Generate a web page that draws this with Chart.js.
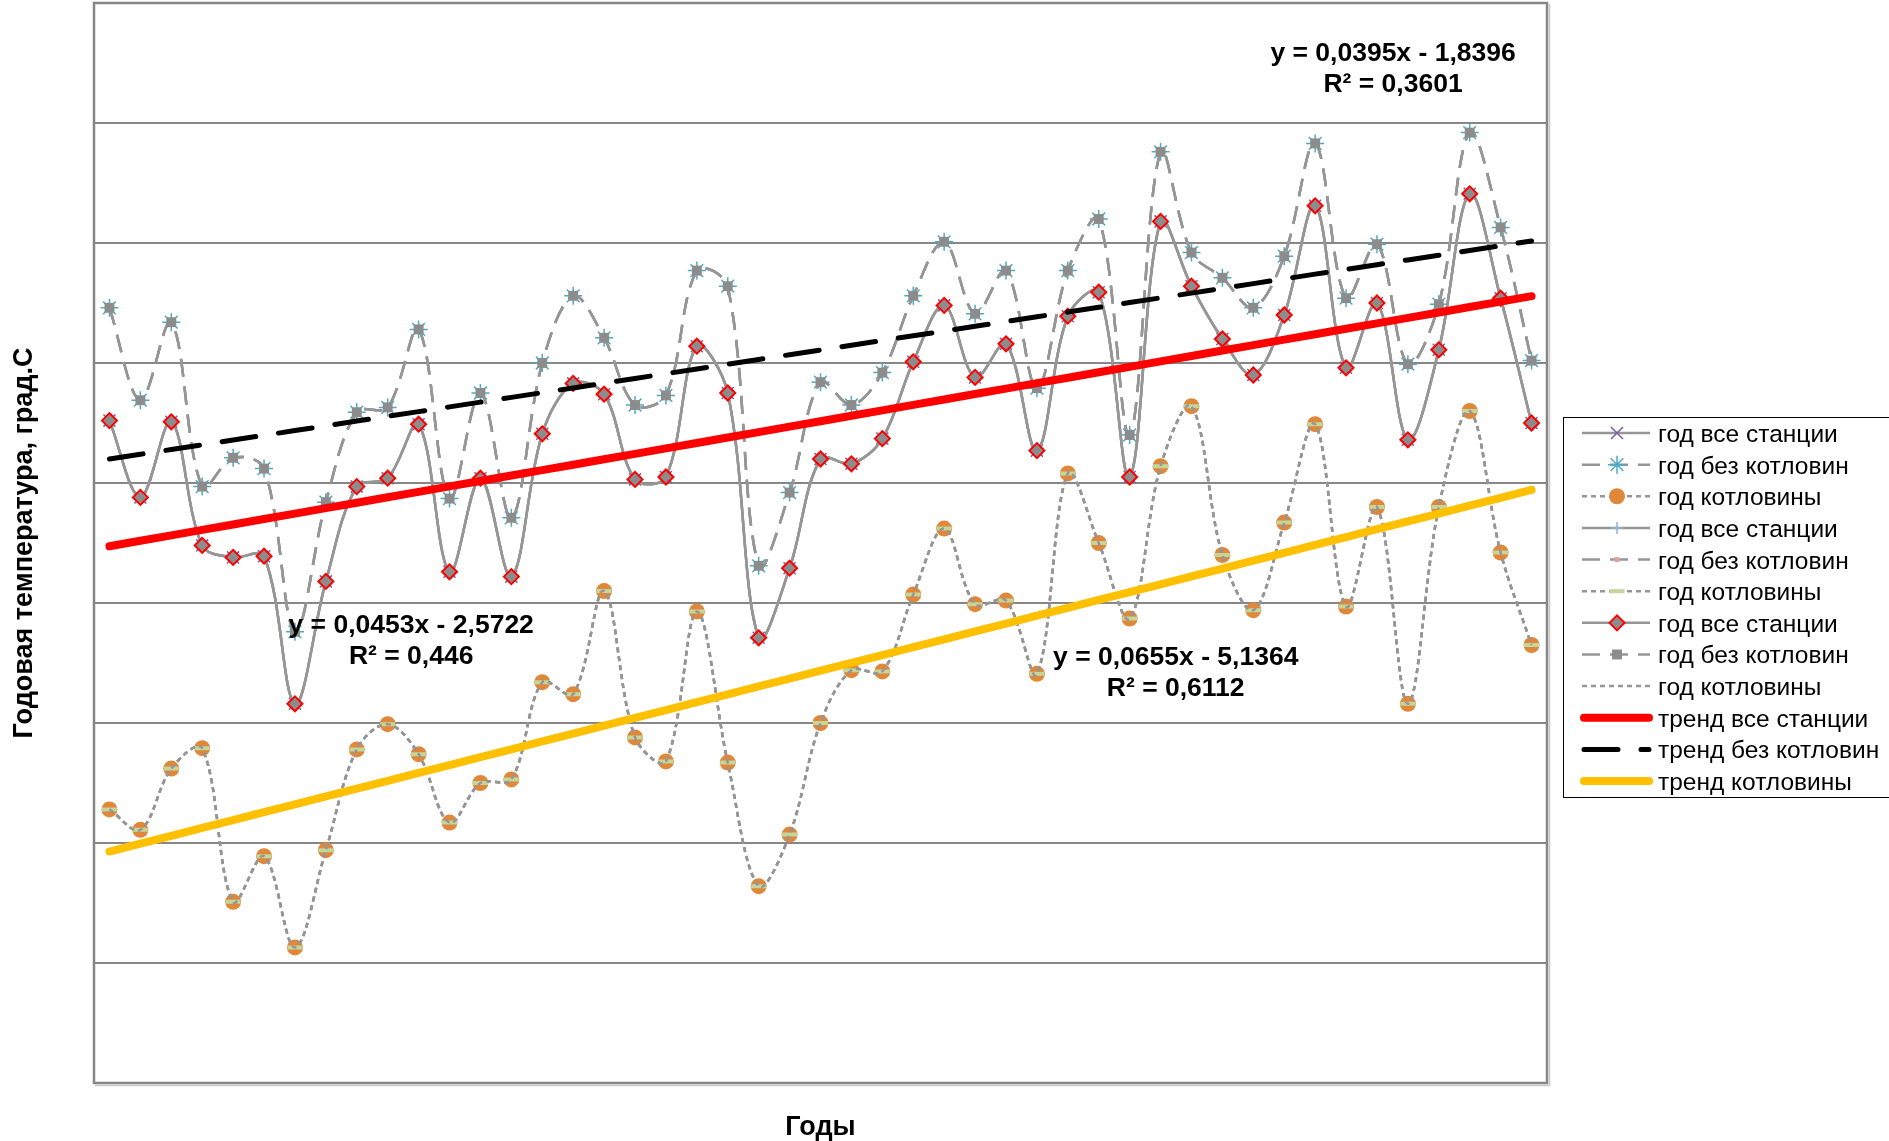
<!DOCTYPE html>
<html lang="ru">
<head>
<meta charset="utf-8">
<title>Годовая температура</title>
<script src="https://cdn.jsdelivr.net/npm/chart.js@4.4.1/dist/chart.umd.min.js"></script>
<style>
  html, body { margin: 0; padding: 0; background: #fff; }
  canvas { display: block; }
</style>
</head>
<body>
<canvas id="grafico" width="1889" height="1141"></canvas>
<script>
// порядковые номера лет
const anos = [1, 2, 3, 4, 5, 6, 7, 8, 9, 10, 11, 12, 13, 14, 15, 16, 17, 18, 19, 20,
  21, 22, 23, 24, 25, 26, 27, 28, 29, 30, 31, 32, 33, 34, 35, 36, 37, 38, 39, 40,
  41, 42, 43, 44, 45, 46, 47]

// среднегодовая температура, град.С
const todasEstaciones = [-1.48, -2.12, -1.49, -2.52, -2.62, -2.61, -3.84, -2.82, -2.03, -1.96,
  -1.51, -2.74, -1.96, -2.78, -1.59, -1.17, -1.26, -1.97, -1.95, -0.86,
  -1.25, -3.29, -2.71, -1.80, -1.84, -1.63, -0.99, -0.52, -1.12, -0.84,
  -1.73, -0.61, -0.41, -1.95, 0.18, -0.36, -0.80, -1.10, -0.60, 0.31,
  -1.04, -0.50, -1.64, -0.89, 0.41, -0.46, -1.50]
const sinKotlovin = [-0.54, -1.31, -0.66, -2.03, -1.79, -1.88, -3.24, -2.16, -1.41, -1.37,
  -0.72, -2.13, -1.25, -2.29, -1.00, -0.44, -0.79, -1.35, -1.27, -0.23,
  -0.36, -2.69, -2.08, -1.16, -1.35, -1.08, -0.44, 0.01, -0.59, -0.23,
  -1.21, -0.23, 0.20, -1.60, 0.76, -0.08, -0.29, -0.54, -0.11, 0.83,
  -0.46, -0.01, -1.01, -0.51, 0.92, 0.13, -0.98]
const kotloviny = [-4.72, -4.89, -4.38, -4.21, -5.49, -5.11, -5.87, -5.06, -4.22, -4.01,
  -4.26, -4.83, -4.50, -4.47, -3.66, -3.76, -2.90, -4.12, -4.32, -3.07,
  -4.33, -5.36, -4.93, -4.00, -3.56, -3.57, -2.93, -2.38, -3.01, -2.98,
  -3.59, -1.92, -2.50, -3.13, -1.86, -1.36, -2.60, -3.06, -2.33, -1.51,
  -3.03, -2.20, -3.84, -2.20, -1.40, -2.58, -3.35]

const nombresSeries = ['год все станции', 'год без котловин', 'год котловины']
const valoresSeries = [todasEstaciones, sinKotlovin, kotloviny]

// линейные тренды: y = a*x + b
const nombresTendencias = ['тренд все станции', 'тренд без котловин', 'тренд котловины']
const pendientes = [0.0453, 0.0395, 0.0655]
const interceptos = [-2.5722, -1.8396, -5.1364]
const r2 = [0.446, 0.3601, 0.6112]

// где подписать уравнения (индекс года, значение)
const posEtiquetas = [[9.76, -3.17], [41.52, 1.60], [34.49, -3.44]]

const fuente = '"Liberation Sans", Arial, sans-serif'
const gris = '#969696'
const trazos = [[], [18, 10], [5, 4]]

// маркеры по группам серий (три группы по три)
const marcas = [
  [{ s: 'crossRot', r: 8.5, c: '#7D60A0', f: '#7D60A0', w: 1.5 },
   { s: 'star', r: 9, c: '#4BACC6', f: '#4BACC6', w: 1.5 },
   { s: 'circle', r: 8, c: '#E0873A', f: '#E0873A', w: 0 }],
  [{ s: 'cross', r: 6, c: '#95B3D7', f: '#95B3D7', w: 1.5 },
   { s: 'rect', r: 3.5, c: '#E3A3A1', f: '#E3A3A1', w: 0 },
   { s: 'line', r: 7.5, c: '#C3D69B', f: '#C3D69B', w: 4 }],
  [{ s: 'rectRot', r: 7.5, c: '#FF0000', f: '#8C8C8C', w: 2 },
   { s: 'rect', r: 7, c: '#8C8C8C', f: '#8C8C8C', w: 0 },
   null]
]

const coma = v => String(v).replace('.', ',')
const textoEcuacion = k => 'y = ' + coma(pendientes[k]) + 'x ' + (interceptos[k] < 0 ? '- ' : '+ ') + coma(Math.abs(interceptos[k]))

const conjuntos = []
marcas.forEach(grupo => grupo.forEach((m, k) => {
  conjuntos.push({
    label: nombresSeries[k],
    data: valoresSeries[k],
    borderColor: gris,
    borderWidth: 2.5,
    borderDash: trazos[k],
    tension: 0.35,
    fill: false,
    pointStyle: m ? m.s : 'circle',
    pointRadius: m ? m.r : 0,
    pointBackgroundColor: m ? m.f : gris,
    pointBorderColor: m ? m.c : gris,
    pointBorderWidth: m ? m.w : 0,
    order: 40 - conjuntos.length
  })
}))

const coloresTend = ['#FF0000', '#000000', '#FFC000']
const anchosTend = [8, 5, 8]
const trazosTend = [[], [34, 23], []]
nombresTendencias.forEach((nombre, k) => {
  conjuntos.push({
    label: nombre,
    data: anos.map(x => +(pendientes[k] * x + interceptos[k]).toFixed(4)),
    borderColor: coloresTend[k],
    borderWidth: anchosTend[k],
    borderDash: trazosTend[k],
    borderCapStyle: 'round',
    tension: 0,
    fill: false,
    pointRadius: 0,
    order: 3 - k
  })
})

// рамка области построения
const marcoPlugin = {
  id: 'marco',
  beforeDatasetsDraw(chart) {
    const { ctx, chartArea: a } = chart
    ctx.save()
    ctx.strokeStyle = '#c8c8c8'
    ctx.lineWidth = 1.5
    ctx.beginPath()
    ctx.moveTo(a.left + 1, a.bottom + 2.5)
    ctx.lineTo(a.right + 2.5, a.bottom + 2.5)
    ctx.lineTo(a.right + 2.5, a.top + 1)
    ctx.stroke()
    ctx.strokeStyle = '#868686'
    ctx.lineWidth = 2.5
    ctx.strokeRect(a.left, a.top, a.right - a.left, a.bottom - a.top)
    ctx.restore()
  }
}

// подписи уравнений трендов
const ecuacionesPlugin = {
  id: 'ecuaciones',
  afterDatasetsDraw(chart) {
    const { ctx, scales } = chart
    ctx.save()
    ctx.font = 'bold 26.5px ' + fuente
    ctx.fillStyle = '#000'
    ctx.textAlign = 'center'
    ctx.textBaseline = 'alphabetic'
    posEtiquetas.forEach(([i, v], k) => {
      const px = scales.x.getPixelForValue(i)
      const py = scales.y.getPixelForValue(v)
      ctx.fillText(textoEcuacion(k), px, py + 9.5)
      ctx.fillText('R² = ' + coma(r2[k]), px, py + 40.5)
    })
    ctx.restore()
  }
}

// легенда справа, в рамке
const leyendaPlugin = {
  id: 'leyenda',
  afterDraw(chart) {
    const ctx = chart.ctx
    const izq = chart.chartArea.right + 16
    const arriba = 417
    const paso = 31.64
    ctx.save()
    ctx.strokeStyle = '#000'
    ctx.lineWidth = 1
    ctx.strokeRect(izq + 0.5, arriba + 0.5, 400, 380)

    chart.data.datasets.forEach((ds, k) => {
      const yc = arriba + 16 + k * paso
      ctx.save()
      ctx.strokeStyle = ds.borderColor
      ctx.lineWidth = ds.borderWidth
      ctx.lineCap = ds.borderCapStyle || 'butt'
      ctx.setLineDash(ds.borderDash || [])
      ctx.beginPath()
      if (ds.borderWidth > 4) {
        ctx.moveTo(izq + 21, yc)
        ctx.lineTo(izq + 86, yc)
      } else {
        ctx.moveTo(izq + 19, yc)
        ctx.lineTo(izq + 87, yc)
      }
      ctx.stroke()
      ctx.restore()

      if (ds.pointRadius > 0) {
        ctx.save()
        ctx.setLineDash([])
        ctx.strokeStyle = ds.pointBorderColor
        ctx.fillStyle = ds.pointBackgroundColor
        ctx.lineWidth = ds.pointBorderWidth
        Chart.helpers.drawPoint(ctx, {
          pointStyle: ds.pointStyle,
          radius: ds.pointRadius,
          borderWidth: ds.pointBorderWidth,
          rotation: 0
        }, izq + 54, yc)
        ctx.restore()
      }

      ctx.fillStyle = '#000'
      ctx.font = '24.5px ' + fuente
      ctx.textAlign = 'left'
      ctx.textBaseline = 'alphabetic'
      ctx.fillText(ds.label, izq + 95, yc + 9)
    })
    ctx.restore()
  }
}

const grafico = new Chart(document.getElementById('grafico'), {
  type: 'line',
  data: {
    labels: anos,
    datasets: conjuntos
  },
  options: {
    responsive: false,
    devicePixelRatio: 1,
    animation: false,
    layout: { autoPadding: false, padding: { left: 0, right: 342, top: 3, bottom: 0 } },
    plugins: {
      legend: { display: false },
      tooltip: { enabled: false }
    },
    scales: {
      x: {
        type: 'category',
        offset: true,
        grid: { display: false, drawTicks: false },
        border: { display: false },
        ticks: { display: false },
        title: {
          display: true,
          text: 'Годы',
          color: '#000',
          font: { family: fuente, size: 27, weight: 'bold', lineHeight: 1 },
          padding: { top: 31, bottom: 0 }
        }
      },
      y: {
        min: -7,
        max: 2,
        ticks: { display: false, stepSize: 1 },
        grid: { color: '#878787', lineWidth: 2, drawTicks: false },
        border: { display: false },
        title: {
          display: true,
          text: 'Годовая температура, град.С',
          color: '#000',
          font: { family: fuente, size: 27, weight: 'bold', lineHeight: 1 },
          padding: { top: 11, bottom: 56 }
        }
      }
    }
  },
  plugins: [marcoPlugin, ecuacionesPlugin, leyendaPlugin]
})
</script>
</body>
</html>
